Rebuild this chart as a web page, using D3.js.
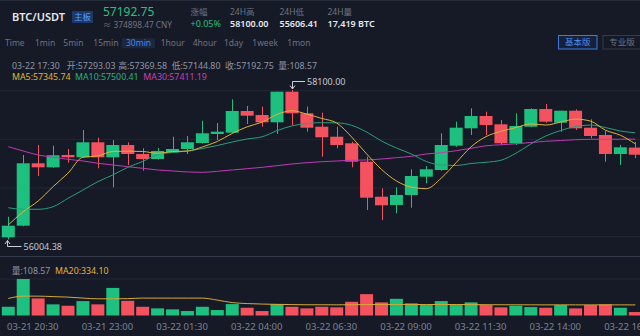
<!DOCTYPE html>
<html>
<head>
<meta charset="utf-8">
<script src="https://cdn.jsdelivr.net/npm/d3@7"></script>
<style>
  html, body { margin: 0; padding: 0; background: #161a26; }
  svg { display: block; }
  text { font-family: "Noto Sans", "Noto Sans CJK SC", sans-serif; }
</style>
</head>
<body>
<svg id="chart" width="640" height="336"></svg>
<script>
// ---- 30-minute BTC/USDT candles, 03-21 20:30 → 03-22 17:30 ----
const startTime = "03-21 20:30";
const tickLabels = ["03-21 20:30", "03-21 23:00", "03-22 01:30", "03-22 04:00", "03-22 06:30",
                    "03-22 09:00", "03-22 11:30", "03-22 14:00", "03-22 16:30"];

const opens = [56035.3, 56197.9, 57072.6, 57016.5, 57189.0, 57156.7, 57366.9, 57156.7, 57329.0, 57202.9,
               57132.8, 57226.7, 57273.0, 57357.1, 57483.3, 57501.5, 57805.6, 57749.6, 57647.3, 58076.2,
               57773.4, 57585.6, 57445.4, 57352.9, 57095.0, 56604.4, 56488.0, 56628.2, 56884.7, 56978.6,
               57319.3, 57563.1, 57735.6, 57619.2, 57352.9, 57585.6, 57833.7, 57641.6, 57809.8, 57571.6,
               57469.2, 57202.9, 57293.03];
const highs = [56324.0, 57188.9, 57329.0, 57319.3, 57273.0, 57539.3, 57431.4, 57399.1, 57366.9, 57282.8,
               57287.0, 57445.4, 57455.2, 57669.7, 57637.4, 57969.6, 57875.7, 57865.9, 58076.2, 58100.0,
               57865.9, 57781.8, 57585.6, 57375.3, 57165.1, 56722.1, 56736.1, 56988.5, 57034.7, 57493.1,
               57655.7, 57843.5, 57795.8, 57679.5, 57773.4, 57843.5, 57903.8, 57809.8, 57829.5, 57689.3,
               57529.5, 57329.0, 57369.58];
const lows = [56004.38, 56190.0, 56894.5, 57010.0, 57081.0, 57150.0, 57002.5, 56736.1, 57048.7, 56968.8,
              57125.0, 57220.0, 57202.9, 57350.0, 57399.1, 57495.0, 57623.4, 57585.6, 57483.3, 57609.4,
              57515.5, 57165.1, 57282.8, 57016.5, 56418.0, 56277.8, 56371.7, 56450.2, 56792.2, 56970.0,
              57305.2, 57469.2, 57469.2, 57329.0, 57329.0, 57580.0, 57641.6, 57515.5, 57539.3, 57423.0,
              57095.0, 57048.7, 57144.80];
const closes = [56197.9, 57072.6, 57016.5, 57184.7, 57156.7, 57366.9, 57156.7, 57329.0, 57202.9, 57132.8,
                57245.0, 57273.0, 57366.9, 57493.1, 57515.5, 57805.6, 57739.8, 57647.3, 58076.2, 57773.4,
                57571.6, 57437.0, 57329.0, 57095.0, 56590.4, 56483.8, 56628.2, 56894.5, 56988.5, 57329.0,
                57571.6, 57735.6, 57609.4, 57352.9, 57595.4, 57833.7, 57655.7, 57809.8, 57563.1, 57455.2,
                57202.9, 57296.8, 57192.75];
const volumes = [275, 1150, 538, 351, 307, 454, 351, 870, 463, 275,
                 225, 194, 141, 275, 172, 360, 244, 141, 360, 275,
                 225, 275, 257, 432, 673, 413, 526, 382, 329, 454,
                 329, 413, 329, 257, 307, 266, 244, 329, 225, 329,
                 351, 244, 108.57];

// moving averages as shown on the chart
const ma5 = [56208, 56394, 56544, 56745, 56935, 57159, 57176, 57239, 57242, 57238,
             57213, 57237, 57244, 57302, 57379, 57491, 57584, 57650, 57757, 57809,
             57762, 57701, 57637, 57441, 57205, 56987, 56825, 56738, 56717, 56865,
             57082, 57304, 57447, 57520, 57573, 57625, 57609, 57650, 57692, 57664,
             57537, 57466, 57345.74];
const ma10 = [56450, 56428, 56428, 56464, 56582, 56698, 56815, 56909, 57016, 57098,
              57196, 57224, 57245, 57280, 57322, 57371, 57413, 57444, 57530, 57597,
              57630, 57642, 57640, 57605, 57511, 57385, 57287, 57203, 57098, 57049,
              57042, 57070, 57087, 57115, 57213, 57343, 57455, 57532, 57588, 57609,
              57574, 57525, 57500.41];
const ma30 = [57305, 57245, 57189, 57157, 57129, 57105, 57073, 57049, 57025, 57002,
              56979, 56965, 56951, 56946, 56960, 56979, 56997, 57016, 57039, 57063,
              57081, 57095, 57105, 57115, 57119, 57133, 57151, 57171, 57203, 57221,
              57249, 57283, 57318, 57332, 57346, 57364, 57381, 57392, 57403, 57409,
              57409, 57410, 57411.19];
const volMa20 = [538, 610, 610, 595, 579, 548, 526, 526, 532, 548,
                 548, 548, 548, 548, 485, 407, 376, 360, 351, 344,
                 338, 338, 336, 340, 345, 348, 350, 348, 345, 348,
                 346, 344, 340, 338, 337, 336, 335, 336, 335, 335,
                 335, 334, 334.10];

// ---- colours ----
const UP = "#1dc07e", DOWN = "#f4525e";
const C_MA5 = "#e0b23a", C_MA10 = "#2a9e7c", C_MA30 = "#be3bb3";
const GRID = "#222736", SEP = "#343a4a", MUTED = "#6d7384", INFO = "#8e95a6";

const parse = d3.timeParse("%m-%d %H:%M");
const fmtTime = d3.timeFormat("%m-%d %H:%M");
const t0 = parse(startTime);
const times = opens.map((_, i) => d3.timeMinute.offset(t0, 30 * i));
const candles = times.map((t, i) => ({
  t, i, o: opens[i], h: highs[i], l: lows[i], c: closes[i], v: volumes[i]
}));
const last = candles[candles.length - 1];

const svg = d3.select("#chart");
svg.append("rect").attr("width", 640).attr("height", 336).attr("fill", "#161a26");
svg.append("line").attr("x1", 0).attr("x2", 640).attr("y1", 0.5).attr("y2", 0.5)
   .attr("stroke", "#262b39");

// ---- header ----
const hdr = svg.append("g");
function txt(g, x, y, s, size, fill, opts = {}) {
  return g.append("text").attr("x", x).attr("y", y).attr("dy", "0.35em")
    .attr("font-size", size).attr("fill", fill)
    .attr("font-weight", opts.weight || 400)
    .attr("text-anchor", opts.anchor || "start")
    .text(s);
}
txt(hdr, 12, 17, "BTC/USDT", 11, "#e6e8ee", { weight: 600 });
hdr.append("rect").attr("x", 72).attr("y", 11).attr("width", 21).attr("height", 12)
   .attr("fill", "#1c3868");
txt(hdr, 82.5, 17, "主板", 8.5, "#5d9dff", { anchor: "middle" });
txt(hdr, 103, 11.5, d3.format(".2f")(last.c), 12, "#2dbf82");
txt(hdr, 103, 25, "≈ 374898.47 CNY", 8.3, MUTED);

const stats = [
  { x: 190.5, label: "涨幅", value: "+0.05%", color: "#2dbf82", weight: 400 },
  { x: 230, label: "24H高", value: d3.format(".2f")(d3.max(highs)), color: "#e6e8ee", weight: 600 },
  { x: 279.5, label: "24H低", value: "55606.41", color: "#e6e8ee", weight: 600 },
  { x: 327.5, label: "24H量", value: "17,419 BTC", color: "#e6e8ee", weight: 600 }
];
stats.forEach(s => {
  txt(hdr, s.x, 12, s.label, 8.5, MUTED);
  txt(hdr, s.x, 24, s.value, 9, s.color, { weight: s.weight });
});

// ---- period toolbar ----
const periods = ["Time", "1min", "5min", "15min", "30min", "1hour", "4hour", "1day", "1week", "1mon"];
const periodX = [5, 35, 63.3, 93.3, 126, 160.7, 192.7, 224, 252.3, 287.3];
hdr.append("rect").attr("x", 121.7).attr("y", 38.3).attr("width", 33.3).attr("height", 10)
   .attr("fill", "#1c2740");
periods.forEach((p, i) => {
  txt(hdr, periodX[i], 43.3, p, 8.5, p === "30min" ? "#3f88f6" : MUTED);
});
hdr.append("rect").attr("x", 558.5).attr("y", 35.5).attr("width", 38.5).attr("height", 13.5)
   .attr("fill", "#17223a").attr("stroke", "#3a7ae0");
txt(hdr, 577.7, 42.3, "基本版", 8.5, "#4b8df2", { anchor: "middle" });
hdr.append("rect").attr("x", 603).attr("y", 35.5).attr("width", 40).attr("height", 13.5)
   .attr("fill", "none").attr("stroke", "#363b49");
txt(hdr, 622, 42.3, "专业版", 8.5, MUTED, { anchor: "middle" });

// ---- scales ----
const x = d3.scaleTime().domain([times[0], times[times.length - 1]]).range([8.3, 635.3]);
const y = d3.scaleLinear().domain([d3.min(lows), d3.max(highs)]).range([239.5, 90]);
const yVol = d3.scaleLinear().domain([0, d3.max(volumes)]).range([315.5, 279]);
const bodyW = 13;

// ---- grids ----
const grid = svg.append("g");
[90.7, 139.3, 188, 236.7, 279].forEach(gy => {
  grid.append("line").attr("x1", 0).attr("x2", 640).attr("y1", gy).attr("y2", gy)
      .attr("stroke", GRID).attr("stroke-width", 1);
});
grid.append("line").attr("x1", 0).attr("x2", 640).attr("y1", 256.5).attr("y2", 256.5)
    .attr("stroke", SEP).attr("stroke-width", 1);

// ---- candles ----
const cg = svg.append("g");
const col = d => d.c >= d.o ? UP : DOWN;
cg.selectAll("line.wick").data(candles).join("line")
  .attr("class", "wick")
  .attr("x1", d => Math.round(x(d.t)) + 0.5).attr("x2", d => Math.round(x(d.t)) + 0.5)
  .attr("y1", d => y(d.h)).attr("y2", d => y(d.l))
  .attr("stroke", col).attr("stroke-width", 1);
cg.selectAll("rect.body").data(candles).join("rect")
  .attr("class", "body")
  .attr("x", d => x(d.t) - bodyW / 2).attr("width", bodyW)
  .attr("y", d => y(Math.max(d.o, d.c)))
  .attr("height", d => Math.max(1, Math.abs(y(d.o) - y(d.c))))
  .attr("fill", col);

// ---- moving averages ----
const maLine = arr => d3.line().x((_, i) => x(times[i])).y(v => y(v)).curve(d3.curveMonotoneX)(arr);
[[ma30, C_MA30], [ma10, C_MA10], [ma5, C_MA5]].forEach(([arr, c]) => {
  svg.append("path").attr("d", maLine(arr)).attr("fill", "none")
     .attr("stroke", c).attr("stroke-width", 1);
});

// ---- high / low markers ----
const mk = svg.append("g").attr("stroke", "#c9cdd6").attr("fill", "none").attr("stroke-width", 1);
const hi = candles[d3.maxIndex(highs)], lo = candles[d3.minIndex(lows)];
{
  const hx = Math.round(x(hi.t)) + 0.5, hy = y(hi.h) - 1, ty = 81.5;
  mk.append("path").attr("d", `M${hx},${hy} V${ty} H${hx + 12.5}`);
  mk.append("path").attr("d", `M${hx - 2.5},${hy - 3.5} L${hx},${hy} L${hx + 2.5},${hy - 3.5}`);
  txt(svg, hx + 14.5, ty, d3.format(".2f")(hi.h), 9, "#c3c7d1");
}
{
  const lx = Math.round(x(lo.t)) - 0.5, ly = y(lo.l) + 1, ty = 246.5;
  mk.append("path").attr("d", `M${lx},${ly} V${ty} H${lx + 14}`);
  mk.append("path").attr("d", `M${lx - 2.5},${ly + 3.5} L${lx},${ly} L${lx + 2.5},${ly + 3.5}`);
  txt(svg, lx + 16, ty, d3.format(".2f")(lo.l), 9, "#c3c7d1");
}

// ---- info lines ----
const f2 = d3.format(".2f");
const info = [
  [12, fmtTime(last.t)], [66.7, "开:" + f2(last.o)], [118.3, "高:" + f2(last.h)],
  [171.7, "低:" + f2(last.l)], [225, "收:" + f2(last.c)], [278.3, "量:" + f2(last.v)]
];
info.forEach(([ix, s]) => txt(svg, ix, 65.5, s, 8.8, INFO));
txt(svg, 12, 76.7, "MA5:" + f2(ma5[ma5.length - 1]), 8.8, C_MA5);
txt(svg, 75, 76.7, "MA10:" + f2(ma10[ma10.length - 1]), 8.8, "#2bb17f");
txt(svg, 143.3, 76.7, "MA30:" + f2(ma30[ma30.length - 1]), 8.8, "#c540b9");

// ---- volume ----
const vg = svg.append("g");
vg.selectAll("rect").data(candles).join("rect")
  .attr("x", d => x(d.t) - bodyW / 2).attr("width", bodyW)
  .attr("y", d => yVol(d.v)).attr("height", d => yVol(0) - yVol(d.v))
  .attr("fill", col);
svg.append("path")
   .attr("d", d3.line().x((_, i) => x(times[i])).y(v => yVol(v)).curve(d3.curveMonotoneX)(volMa20))
   .attr("fill", "none").attr("stroke", "#d6a935").attr("stroke-width", 1);
txt(svg, 11.7, 271, "量:" + f2(last.v), 8.8, INFO);
txt(svg, 55, 271, "MA20:" + f2(volMa20[volMa20.length - 1]), 8.8, C_MA5);

// ---- time axis ----
const axis = d3.axisBottom(x).tickValues(tickLabels.map(parse))
  .tickFormat(fmtTime).tickSize(0).tickPadding(0);
const ag = svg.append("g").attr("transform", "translate(0,327)").call(axis);
ag.select(".domain").remove();
ag.selectAll("text").attr("text-anchor", "start").attr("dx", -1.8).attr("dy", "0.35em")
  .attr("y", 0).attr("fill", "#7c8293").attr("font-size", 9.5)
  .attr("font-family", "\"Noto Sans\", sans-serif");
</script>
</body>
</html>
